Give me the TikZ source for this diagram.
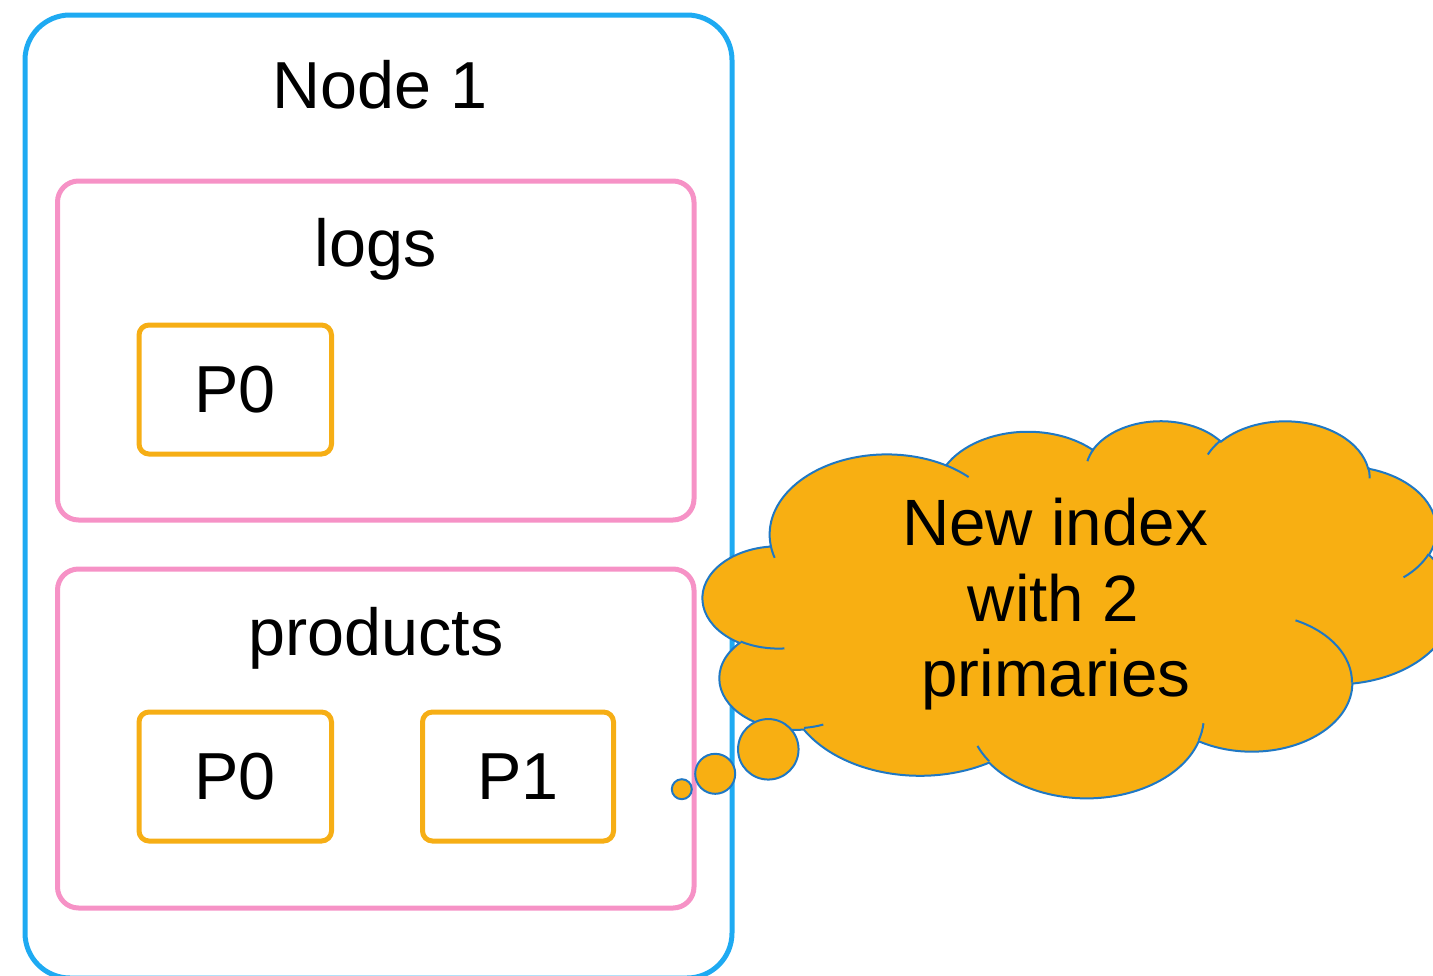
\documentclass[tikz,border=0pt]{standalone}
\usepackage{fontspec}
\setmainfont{Liberation Sans}
\definecolor{nodeblue}{HTML}{1EAAF2}
\definecolor{idxpink}{HTML}{F692C6}
\definecolor{shardorange}{HTML}{F6AE15}
\definecolor{cloudfill}{HTML}{F8AF12}
\definecolor{cloudline}{HTML}{1F78C4}
% arcTo helper: wR hR (scaled) stAng swAng (degrees, visual angles) -> parametric angles
\newcommand\cldcalc[4]{%
  \pgfmathsetmacro\cldW{#1}%
  \pgfmathsetmacro\cldH{#2}%
  \pgfmathsetmacro\cldS{atan2(#1*sin(#3),#2*cos(#3))}%
  \pgfmathsetmacro\cldEraw{atan2(#1*sin(#3+#4),#2*cos(#3+#4))}%
  \pgfmathsetmacro\cldE{\cldS+mod(\cldEraw-\cldS+720,360)}%
}
\begin{document}
\begin{tikzpicture}[x=1pt,y=-1pt,
  mainfont/.style={font=\fontsize{66.5}{80}\selectfont},
  cloudfont/.style={font=\fontsize{65.5}{76}\selectfont},
  nodebox/.style={draw=nodeblue,line width=5pt,rounded corners=45pt,inner sep=0pt,outer sep=0pt},
  indexbox/.style={draw=idxpink,line width=5pt,rounded corners=21pt,inner sep=0pt,outer sep=0pt,
    minimum width=636.5pt,minimum height=339pt},
  shardbox/.style={draw=shardorange,line width=5pt,rounded corners=10pt,inner sep=0pt,outer sep=0pt,
    minimum height=129pt,mainfont},
  label/.style={anchor=base,inner sep=0pt,mainfont},
  cloudshape/.style={fill=cloudfill,draw=cloudline,line width=2pt},
  cloudhook/.style={draw=cloudline,line width=2pt},
  bubble/.style={circle,fill=cloudfill,draw=cloudline,line width=2pt,inner sep=0pt,outer sep=0pt},
  cloudtext/.style={anchor=base,inner sep=0pt,cloudfont}]
\useasboundingbox (0,0) rectangle (1433,975);
\clip (0,0) rectangle (1433,975);

% Node 1
\node[nodebox,minimum width=707pt,minimum height=963pt] (node1) at (378.5,496.5) {};
\node[label] (node1lbl) at (380,108.3) {Node 1};

% logs index
\node[indexbox] (logs) at (375.75,350.5) {};
\node[label] (logslbl) at (375.5,266.7) {logs};
\node[shardbox,minimum width=192.5pt] (logsp0) at (235.25,389.5) {P0};

% products index
\node[indexbox] (products) at (375.75,738.5) {};
\node[label] (productslbl) at (376,655.7) {products};
\node[shardbox,minimum width=192.5pt] (prodp0) at (235.25,776.5) {P0};
\node[shardbox,minimum width=191pt] (prodp1) at (518,776.5) {P1};

% cloud callout
\begin{scope}[shift={(703pt,-420pt)},x=1.736111pt,y=-0.872685pt]
\path[cloudshape] (39.00,143.70)
  \pgfextra{\cldcalc{67.53}{91.90}{-190.48748}{123.78053}} arc[start angle=\cldS,end angle=\cldE,x radius=\cldW,y radius=\cldH]
  \pgfextra{\cldcalc{53.33}{72.67}{-144.10238}{89.94523}} arc[start angle=\cldS,end angle=\cldE,x radius=\cldW,y radius=\cldH]
  \pgfextra{\cldcalc{43.65}{59.45}{-145.80792}{99.72302}} arc[start angle=\cldS,end angle=\cldE,x radius=\cldW,y radius=\cldH]
  \pgfextra{\cldcalc{48.57}{65.95}{-130.98607}{117.24173}} arc[start angle=\cldS,end angle=\cldE,x radius=\cldW,y radius=\cldH]
  \pgfextra{\cldcalc{53.33}{72.73}{-78.70888}{109.02692}} arc[start angle=\cldS,end angle=\cldE,x radius=\cldW,y radius=\cldH]
  \pgfextra{\cldcalc{67.75}{92.20}{-46.26725}{130.269}} arc[start angle=\cldS,end angle=\cldE,x radius=\cldW,y radius=\cldH]
  \pgfextra{\cldcalc{57.85}{78.67}{0.62502}{114.03333}} arc[start angle=\cldS,end angle=\cldE,x radius=\cldW,y radius=\cldH]
  \pgfextra{\cldcalc{67.52}{92.15}{22.4516}{115.17255}} arc[start angle=\cldS,end angle=\cldE,x radius=\cldW,y radius=\cldH]
  \pgfextra{\cldcalc{77.20}{105.43}{66.24263}{75.71102}} arc[start angle=\cldS,end angle=\cldE,x radius=\cldW,y radius=\cldH]
  \pgfextra{\cldcalc{43.60}{59.18}{-274.94208}{146.73557}} arc[start angle=\cldS,end angle=\cldE,x radius=\cldW,y radius=\cldH]
  \pgfextra{\cldcalc{43.45}{59.45}{-246.8285}{152.51885}} arc[start angle=\cldS,end angle=\cldE,x radius=\cldW,y radius=\cldH]
  -- cycle;
\end{scope}

% thought bubbles
\node[bubble,minimum size=20pt] (bubble1) at (681.8,789.2) {};
\node[bubble,minimum size=40pt] (bubble2) at (715.2,773.8) {};
\node[bubble,minimum size=60.5pt] (bubble3) at (768.3,749.3) {};

% inner hooks of the cloud
\begin{scope}[shift={(703pt,-420pt)},x=1.736111pt,y=-0.872685pt]
\path[cloudhook]
  (46.93,261.77) \pgfextra{\cldcalc{43.45}{59.45}{86.742}{26.4295}} arc[start angle=\cldS,end angle=\cldE,x radius=\cldW,y radius=\cldH]
  (69.28,348.99) \pgfextra{\cldcalc{43.60}{59.18}{73.61047}{11.44747}} arc[start angle=\cldS,end angle=\cldE,x radius=\cldW,y radius=\cldH]
  (164.78,390.90) \pgfextra{\cldcalc{67.52}{92.15}{137.62415}{14.0811}} arc[start angle=\cldS,end angle=\cldE,x radius=\cldW,y radius=\cldH]
  (288.27,347.51) \pgfextra{\cldcalc{67.52}{92.15}{6.45327}{15.99835}} arc[start angle=\cldS,end angle=\cldE,x radius=\cldW,y radius=\cldH]
  (341.29,229.54) \pgfextra{\cldcalc{57.85}{78.67}{-70.29235}{70.91737}} arc[start angle=\cldS,end angle=\cldE,x radius=\cldW,y radius=\cldH]
  (417.98,153.54) \pgfextra{\cldcalc{53.33}{72.73}{30.31803}{27.7515}} arc[start angle=\cldS,end angle=\cldE,x radius=\cldW,y radius=\cldH]
  (383.24,54.26) \pgfextra{\cldcalc{48.57}{65.95}{-13.74433}{14.8589}} arc[start angle=\cldS,end angle=\cldE,x radius=\cldW,y radius=\cldH]
  (290.78,39.52) \pgfextra{\cldcalc{48.57}{65.95}{-149.18145}{18.19537}} arc[start angle=\cldS,end angle=\cldE,x radius=\cldW,y radius=\cldH]
  (221.41,47.20) \pgfextra{\cldcalc{43.65}{59.45}{-163.49427}{17.68635}} arc[start angle=\cldS,end angle=\cldE,x radius=\cldW,y radius=\cldH]
  (140.00,51.92) \pgfextra{\cldcalc{67.53}{91.90}{-66.70695}{12.31935}} arc[start angle=\cldS,end angle=\cldE,x radius=\cldW,y radius=\cldH]
  (41.27,157.89) \pgfextra{\cldcalc{67.53}{91.90}{157.65435}{11.85817}} arc[start angle=\cldS,end angle=\cldE,x radius=\cldW,y radius=\cldH];
\end{scope}

% cloud text
\node[cloudtext] (cloudline1) at (1055,545.7) {New index};
\node[cloudtext] (cloudline2) at (1053.5,621.7) {with 2};
\node[cloudtext] (cloudline3) at (1056,696) {primaries};
\end{tikzpicture}
\end{document}
